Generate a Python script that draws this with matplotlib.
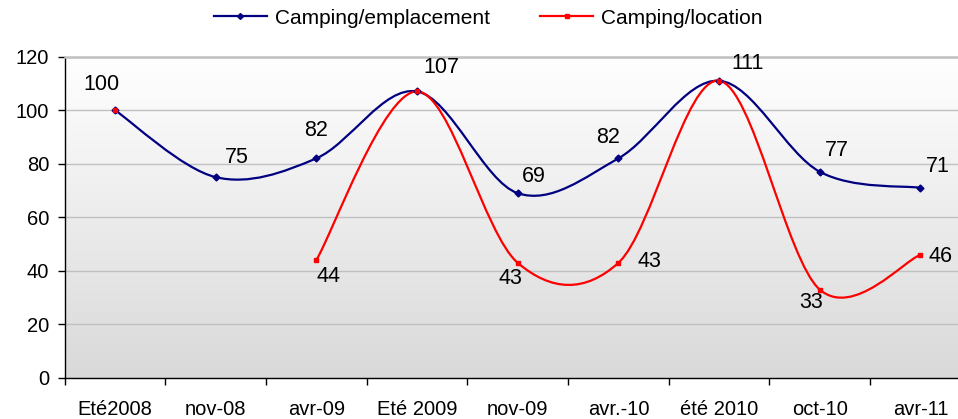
import numpy as np
import matplotlib
matplotlib.use("Agg")
import matplotlib.pyplot as plt
from matplotlib.path import Path
from matplotlib.patches import PathPatch
from matplotlib.lines import Line2D

categories = ["Eté2008", "nov-08", "avr-09", "Eté 2009", "nov-09",
              "avr.-10", "été 2010", "oct-10", "avr-11"]
emplacement = [100, 75, 82, 107, 69, 82, 111, 77, 71]
location = [100, np.nan, 44, 107, 43, 43, 111, 33, 46]

# label offsets in pixels (dx, dy); None = no label drawn
off_empl = [(-13, 26), (21, 20), (0, 28), (24, 24), (16, 17),
            (-10, 21), (28, 17), (17, 21), (17, 21)]
off_loc = [None, None, (12, -16), None, (-7, -16),
           (31, 1), None, (-9, -13), (20, -2)]

BLUE = "#000080"
RED = "#ff0000"
plt.rcParams["font.family"] = ["Liberation Sans", "DejaVu Sans"]


def smooth_path(xs, ys):
    # excel style smoothed line: bezier through points, neighbours give tangents
    verts, codes = [], []
    n = len(xs)
    pts = np.column_stack([xs, ys])
    verts.append(pts[0]); codes.append(Path.MOVETO)
    for i in range(n - 1):
        p0 = pts[max(i - 1, 0)]
        p1 = pts[i]
        p2 = pts[i + 1]
        p3 = pts[min(i + 2, n - 1)]
        c1 = p1 + (p2 - p0) / 6.0
        c2 = p2 - (p3 - p1) / 6.0
        verts += [c1, c2, p2]
        codes += [Path.CURVE4] * 3
    return Path(verts, codes)


def draw_series(ax, vals, color, marker, ms):
    x = np.arange(len(vals))
    y = np.asarray(vals, dtype=float)
    ok = ~np.isnan(y)
    # split into runs without gaps
    runs, cur = [], []
    for i in range(len(y)):
        if ok[i]:
            cur.append(i)
        else:
            if cur:
                runs.append(cur)
            cur = []
    if cur:
        runs.append(cur)
    for r in runs:
        if len(r) > 1:
            ax.add_patch(PathPatch(smooth_path(x[r], y[r]), facecolor="none",
                                   edgecolor=color, lw=1.6, zorder=3,
                                   capstyle="round", joinstyle="round"))
    ax.plot(x[ok], y[ok], linestyle="none", marker=marker, ms=ms,
            color=color, zorder=4)


fig = plt.figure(figsize=(9.58, 4.19), dpi=100)
ax = fig.add_axes([0.0674, 0.0979, 0.946, 0.767])

# gradient background
grad = np.linspace(1, 0, 256).reshape(-1, 1)
ax.imshow(grad, extent=[0, 1, 0, 1], transform=ax.transAxes, aspect="auto",
          cmap=matplotlib.colors.LinearSegmentedColormap.from_list(
              "bg", ["#d9d9d9", "#ffffff"]), vmin=0, vmax=1, zorder=0)

draw_series(ax, emplacement, BLUE, "D", 3.5)
draw_series(ax, location, RED, "s", 3)

for i, v in enumerate(emplacement):
    if off_empl[i] is not None:
        ax.annotate(str(v), (i, v), xytext=off_empl[i], textcoords="offset pixels",
                    ha="center", va="center", fontsize=15.5, zorder=5)
for i, v in enumerate(location):
    if off_loc[i] is not None:
        ax.annotate(str(int(v)), (i, v), xytext=off_loc[i], textcoords="offset pixels",
                    ha="center", va="center", fontsize=15.5, zorder=5)

ax.set_xlim(-0.5, len(categories) - 0.5)
ax.set_ylim(0, 120)
ax.set_yticks(range(0, 121, 20))
ax.set_xticks(range(len(categories)))
ax.set_xticklabels(categories)
ax.set_xticks(np.arange(-0.5, len(categories), 1), minor=True)
ax.tick_params(axis="x", which="major", length=0, pad=16, labelsize=14.5)
ax.tick_params(axis="x", which="minor", length=5, width=1, direction="out")
ax.tick_params(axis="y", length=5, width=1, direction="out", pad=6, labelsize=14.5)
ax.grid(axis="y", color="#c0c0c0", lw=1, zorder=1)
ax.set_axisbelow(True)
ax.spines["right"].set_visible(False)
ax.spines["top"].set_color("#c0c0c0")
ax.spines["top"].set_linewidth(1.8)
ax.spines["left"].set_linewidth(1)
ax.spines["bottom"].set_linewidth(1)

handles = [Line2D([], [], color=BLUE, lw=1.6, marker="D", ms=3),
           Line2D([], [], color=RED, lw=1.6, marker="s", ms=2.5)]
fig.legend(handles, ["Camping/emplacement", "Camping/location"], loc="center",
           bbox_to_anchor=(488 / 958, 1 - 18 / 419), ncol=2, frameon=False,
           fontsize=15, handlelength=2.55, handletextpad=0.38, columnspacing=2.42)

fig.savefig("out.png", dpi=100)
